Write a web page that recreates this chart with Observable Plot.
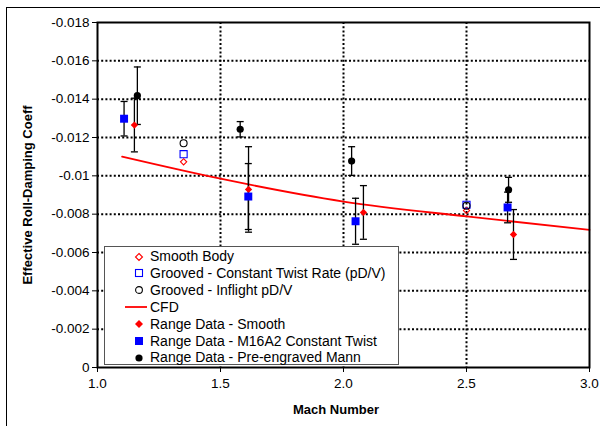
<!DOCTYPE html>
<html><head><meta charset="utf-8">
<script src="https://cdn.jsdelivr.net/npm/d3@7"></script>
<script src="https://cdn.jsdelivr.net/npm/@observablehq/plot@0.6"></script>
<style>
body{margin:0;background:#fff;font-family:Arial,"Liberation Sans",sans-serif;}
#wrap{position:relative;width:600px;height:426px;overflow:hidden;background:#fff;}
#border{position:absolute;left:6px;top:7px;width:700px;height:700px;border-left:1.5px solid #000;border-top:1.5px solid #000;}
#chart{position:absolute;left:0;top:0;}
.ttl{position:absolute;font-weight:bold;font-size:13px;color:#000;white-space:nowrap;}
#ytitle{left:27px;top:195px;transform:translate(-50%,-50%) rotate(-90deg);}
#xtitle{left:336px;top:409px;transform:translate(-50%,-50%);}
#legend{position:absolute;left:104px;top:246px;width:293px;height:117px;border:1px solid #555;background:#fff;font-size:14px;}
.li{position:absolute;left:0;height:17px;line-height:17px;white-space:nowrap;}
.li svg{position:absolute;top:0;overflow:visible;}
.li span{position:absolute;left:45px;top:0;}
</style>
</head><body>
<div id="wrap">
  <div id="border"></div>
  <div id="chart"></div>
  <div class="ttl" id="ytitle">Effective Roll-Damping Coeff</div>
  <div class="ttl" id="xtitle">Mach Number</div>
  <div id="legend"></div>
</div>
<script>
// ---- data ----
const xTicks = [1.0, 1.5, 2.0, 2.5, 3.0];
const yTicks = [0, -0.002, -0.004, -0.006, -0.008, -0.01, -0.012, -0.014, -0.016, -0.018];
const yTickLabels = ["0", "-0.002", "-0.004", "-0.006", "-0.008", "-0.01", "-0.012", "-0.014", "-0.016", "-0.018"];
const xGrid = [1.5, 2.0, 2.5];
const yGrid = [-0.002, -0.004, -0.006, -0.008, -0.01, -0.012, -0.014, -0.016];

const smoothBodyMach = [1.35, 2.5];
const smoothBodyCoef = [-0.01073, -0.00819];
const groovedConstMach = [1.35, 2.5];
const groovedConstCoef = [-0.01113, -0.00849];
const groovedInflightMach = [1.35, 2.5];
const groovedInflightCoef = [-0.0117, -0.00844];

const cfdMach = [1.1, 1.5, 2.0, 2.5, 3.0];
const cfdCoef = [-0.0110, -0.00985, -0.00866, -0.00788, -0.00718];

const rangeSmoothMach = [1.15, 1.614, 2.081, 2.691];
const rangeSmoothCoef = [-0.01265, -0.00929, -0.00809, -0.00694];
const rangeSmoothErr = [0.0014, 0.00223, 0.0014, 0.0013];

const rangeM16Mach = [1.108, 1.613, 2.049, 2.667];
const rangeM16Coef = [-0.01298, -0.00892, -0.00763, -0.00835];
const rangeM16Err = [0.0009, 0.00172, 0.0012, 0.0008];

const rangeMannMach = [1.162, 1.58, 2.033, 2.671];
const rangeMannCoef = [-0.01418, -0.01243, -0.01077, -0.00927];
const rangeMannErr = [0.0015, 0.0004, 0.00075, 0.00065];

const legendNames = ["Smooth Body", "Grooved - Constant Twist Rate (pD/V)", "Grooved - Inflight pD/V", "CFD",
  "Range Data - Smooth", "Range Data - M16A2 Constant Twist", "Range Data - Pre-engraved Mann"];

// ---- tables ----
const pts = (ms, cs) => ms.map((m, i) => ({m, c: cs[i]}));
const errs = (ms, cs, es) => ms.map((m, i) => ({m, c: cs[i], lo: cs[i] + es[i], hi: cs[i] - es[i]}));
const errAll = [
  ...errs(rangeSmoothMach, rangeSmoothCoef, rangeSmoothErr),
  ...errs(rangeM16Mach, rangeM16Coef, rangeM16Err),
  ...errs(rangeMannMach, rangeMannCoef, rangeMannErr)
];
const cap = {draw(ctx, size) { const w = Math.sqrt(size / Math.PI); ctx.moveTo(-w, 0); ctx.lineTo(w, 0); }};

const chart = Plot.plot({
  width: 600, height: 426,
  marginLeft: 97, marginRight: 11, marginTop: 22, marginBottom: 59,
  style: {fontFamily: "Arial, 'Liberation Sans', sans-serif", fontSize: "13.5px", color: "#000", background: "transparent"},
  x: {domain: [1, 3]},
  y: {domain: [0, -0.018]},
  marks: [
    Plot.ruleX(xGrid, {stroke: "#000", strokeWidth: 2, strokeDasharray: "2,2.2"}),
    Plot.ruleY(yGrid, {stroke: "#000", strokeWidth: 2, strokeDasharray: "2,2.2"}),
    Plot.line(pts(cfdMach, cfdCoef), {x: "m", y: "c", stroke: "#ff0000", strokeWidth: 1.8, curve: "monotone-x"}),
    Plot.ruleX(errAll, {x: "m", y1: "lo", y2: "hi", stroke: "#000", strokeWidth: 1.3}),
    Plot.dot(errAll, {x: "m", y: "lo", symbol: cap, r: 3.5, stroke: "#000", strokeWidth: 1.3}),
    Plot.dot(errAll, {x: "m", y: "hi", symbol: cap, r: 3.5, stroke: "#000", strokeWidth: 1.3}),
    Plot.dot(pts(smoothBodyMach, smoothBodyCoef), {x: "m", y: "c", symbol: "diamond2", r: 2.8, stroke: "#ff0000", strokeWidth: 1.1, fill: "none"}),
    Plot.dot(pts(groovedConstMach, groovedConstCoef), {x: "m", y: "c", symbol: "square", r: 4, stroke: "#0000ff", strokeWidth: 1.1, fill: "none"}),
    Plot.dot(pts(groovedInflightMach, groovedInflightCoef), {x: "m", y: "c", symbol: "circle", r: 3.5, stroke: "#000", strokeWidth: 1.1, fill: "none"}),
    Plot.dot(pts(rangeSmoothMach, rangeSmoothCoef), {x: "m", y: "c", symbol: "diamond2", r: 3.3, fill: "#ff0000"}),
    Plot.dot(pts(rangeM16Mach, rangeM16Coef), {x: "m", y: "c", symbol: "square", r: 4.5, fill: "#0000ff"}),
    Plot.dot(pts(rangeMannMach, rangeMannCoef), {x: "m", y: "c", symbol: "circle", r: 3.6, fill: "#000"}),
    Plot.axisX(xTicks, {tickFormat: d => d.toFixed(1), tickSize: 5, tickPadding: 6, label: null, fontSize: 13.5}),
    Plot.axisY(yTicks, {tickFormat: d => yTickLabels[yTicks.indexOf(d)], tickSize: 5, tickPadding: 3, label: null, fontSize: 13.5}),
    Plot.frame({stroke: "#000", strokeWidth: 2})
  ]
});
document.getElementById("chart").appendChild(chart);

// ---- legend ----
const legendSym = [
  '<path d="M4,0.5 L7.5,4 L4,7.5 L0.5,4Z" fill="none" stroke="#f00" stroke-width="1.1" transform="translate(1,1)"/>',
  '<rect x="1.5" y="1.5" width="7" height="7" fill="none" stroke="#00f" stroke-width="1.1"/>',
  '<circle cx="5" cy="5" r="3.4" fill="none" stroke="#000" stroke-width="1.1"/>',
  '<line x1="-9" y1="5" x2="13" y2="5" stroke="#f00" stroke-width="1.8"/>',
  '<path d="M5,1 L9,5 L5,9 L1,5Z" fill="#f00"/>',
  '<rect x="1" y="1" width="8" height="8" fill="#00f"/>',
  '<circle cx="5" cy="5" r="3.6" fill="#000"/>'
];
const lg = document.getElementById("legend");
legendNames.forEach((n, i) => {
  const d = document.createElement("div");
  d.className = "li";
  d.style.top = (1 + i * 16.9) + "px";
  d.innerHTML = `<svg width="10" height="10" style="left:29px;top:3.5px">${legendSym[i]}</svg><span>${n}</span>`;
  lg.appendChild(d);
});
</script>
</body></html>
